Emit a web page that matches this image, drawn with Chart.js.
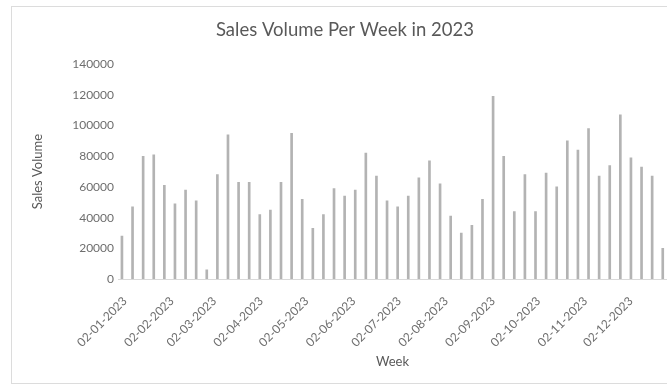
<!DOCTYPE html>
<html>
<head>
<meta charset="utf-8">
<script src="https://cdn.jsdelivr.net/npm/chart.js@4.4.1/dist/chart.umd.min.js"></script>
<style>
  html, body { margin: 0; padding: 0; background: #fff; overflow: hidden; }
  #wrap { width: 667px; height: 389px; }
</style>
</head>
<body>
<div id="wrap"><canvas id="salesChart" width="667" height="389"></canvas></div>
<script>
// Weekly sales, one value per week starting Monday 02-01-2023
const salesVolume = [
  28000, 47000, 80000, 81000, 61000, 49000, 58000, 51000, 6000, 68000,
  94000, 63000, 63000, 42000, 45000, 63000, 95000, 52000, 33000, 42000,
  59000, 54000, 58000, 82000, 67000, 51000, 47000, 54000, 66000, 77000,
  62000, 41000, 30000, 35000, 52000, 119000, 80000, 44000, 68000, 44000,
  69000, 60000, 90000, 84000, 98000, 67000, 74000, 107000, 79000, 73000,
  67000, 20000
];
// first week starts on day 1 (Jan 1 = day 0)
const firstWeekDay = 1;

// date axis labels: the 2nd of every month
const monthTickDays = [1, 32, 60, 91, 121, 152, 182, 213, 244, 274, 305, 335];
const monthTickLabels = [
  '02-01-2023', '02-02-2023', '02-03-2023', '02-04-2023', '02-05-2023', '02-06-2023',
  '02-07-2023', '02-08-2023', '02-09-2023', '02-10-2023', '02-11-2023', '02-12-2023'
];
const yTicks = [0, 20000, 40000, 60000, 80000, 100000, 120000, 140000];

const titleColor = '#595959';
const tickColor = '#6e6e6e';
const fontFamily = 'Lato, "Open Sans", sans-serif';

const points = salesVolume.map((v, i) => ({ x: firstWeekDay + 7 * i, y: v }));

// chart area outline like an office chart frame
const frame = {
  id: 'frame',
  beforeDraw(chart) {
    const ctx = chart.ctx;
    ctx.save();
    ctx.fillStyle = '#ffffff';
    ctx.fillRect(0, 0, chart.width, chart.height);
    ctx.strokeStyle = '#dcdcdc';
    ctx.lineWidth = 1;
    ctx.strokeRect(11.5, 6.5, 700, 377);
    ctx.restore();
  }
};

new Chart(document.getElementById('salesChart'), {
  type: 'bar',
  data: {
    datasets: [{
      label: 'Sales Volume',
      data: points,
      backgroundColor: '#b3b3b3',
      borderWidth: 0,
      barThickness: 2
    }]
  },
  options: {
    responsive: false,
    animation: false,
    layout: { padding: { left: 23, right: 0, top: 6, bottom: 10 } },
    plugins: {
      legend: { display: false },
      tooltip: { enabled: false },
      title: {
        display: true,
        text: 'Sales Volume Per Week in 2023',
        color: titleColor,
        font: { family: fontFamily, size: 18.5, weight: 'normal' },
        padding: { top: 13, bottom: 23 }
      }
    },
    scales: {
      x: {
        type: 'linear',
        offset: false,
        min: -1.6,
        max: 360.8,
        grid: { display: false, drawTicks: false },
        border: { display: true, color: '#d9d9d9' },
        afterBuildTicks(scale) {
          scale.ticks = monthTickDays.map(v => ({ value: v }));
        },
        afterFit(scale) { scale.height = 100; },
        ticks: {
          minRotation: 45,
          maxRotation: 45,
          padding: 15,
          labelOffset: 3,
          color: tickColor,
          font: { family: fontFamily, size: 12 },
          callback(value) {
            const i = monthTickDays.indexOf(value);
            return i >= 0 ? monthTickLabels[i] : '';
          }
        },
        title: {
          display: true,
          text: 'Week',
          color: titleColor,
          font: { family: fontFamily, size: 13 },
          padding: { top: 0, bottom: 9 }
        }
      },
      y: {
        min: 0,
        max: 140000,
        grid: { display: false, drawTicks: false },
        border: { display: false },
        afterBuildTicks(scale) {
          scale.ticks = yTicks.map(v => ({ value: v }));
        },
        afterFit(scale) { scale.width = 95; },
        ticks: {
          padding: 4,
          color: tickColor,
          font: { family: fontFamily, size: 12 },
          callback: v => String(v)
        },
        title: {
          display: true,
          text: 'Sales Volume',
          color: titleColor,
          font: { family: fontFamily, size: 13 },
          padding: { top: 7, bottom: 0 }
        }
      }
    }
  },
  plugins: [frame]
});
</script>
</body>
</html>
